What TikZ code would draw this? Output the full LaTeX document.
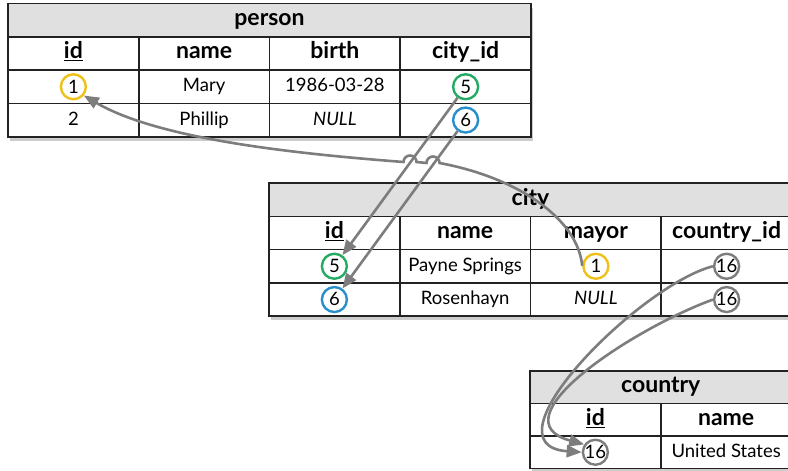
\documentclass[tikz,border=0pt]{standalone}
\usepackage{fontspec}
\setmainfont{Lato}
\usetikzlibrary{arrows.meta,shadows}

\definecolor{tabline}{RGB}{34,34,34}
\definecolor{titlegray}{RGB}{224,224,224}
\definecolor{linkgray}{RGB}{125,125,125}
\definecolor{keyyellow}{RGB}{238,193,24}
\definecolor{keygreen}{RGB}{36,170,98}
\definecolor{keyblue}{RGB}{40,142,204}

\tikzset{
    tabframe/.style={fill=white,anchor=north west,inner sep=0pt,outer sep=0pt,
        drop shadow={opacity=0.4,shadow xshift=1.5pt,shadow yshift=-4pt}},
    tabtitle/.style={draw=tabline,line width=1.6pt,fill=titlegray,anchor=north west,
        inner sep=0pt,outer sep=0pt,minimum height=33.3pt,
        text height=16pt,text depth=5pt,font=\bfseries\fontsize{23}{26}\selectfont},
    headcell/.style={tabtitle,fill=white,minimum width=130.75pt},
    datacell/.style={headcell,text height=14pt,text depth=4pt,
        font=\fontsize{18.5}{21}\selectfont},
    keycirc/.style={circle,line width=2.4pt,minimum size=25pt,inner sep=0pt,anchor=center,
        text height=12.5pt,text depth=0pt,font=\fontsize{18.5}{21}\selectfont},
    link/.style={draw=linkgray,line width=2.6pt,-{Triangle[length=15pt,width=12pt]}}
}

\begin{document}
\begin{tikzpicture}[x=1pt,y=-1pt]
    \useasboundingbox (0,0) rectangle (788,471);
    \clip (0,0) rectangle (788,471);

    % person
    \node[tabframe,minimum width=523pt,minimum height=133.2pt] (person-frame) at (8,3.5) {};
    \node[tabtitle,minimum width=523pt] (person) at (8,3.5) {person};
    \node[headcell] (p-id) at (8,36.8) {\underline{id}};
    \node[headcell] (p-name) at (138.75,36.8) {name};
    \node[headcell] (p-birth) at (269.5,36.8) {birth};
    \node[headcell] (p-city) at (400.25,36.8) {city\_id};
    \node[datacell] (p1-id) at (8,70.1) {};
    \node[datacell] (p1-name) at (138.75,70.1) {Mary};
    \node[datacell] (p1-birth) at (269.5,70.1) {1986-03-28};
    \node[datacell] (p1-city) at (400.25,70.1) {};
    \node[datacell] (p2-id) at (8,103.4) {2};
    \node[datacell] (p2-name) at (138.75,103.4) {Phillip};
    \node[datacell] (p2-birth) at (269.5,103.4) {\itshape NULL};
    \node[datacell] (p2-city) at (400.25,103.4) {};
    \node[keycirc,draw=keyyellow] (p1-idk) at (p1-id.center) {1};
    \node[keycirc,draw=keygreen] (p1-cityk) at (p1-city.center) {5};
    \node[keycirc,draw=keyblue] (p2-cityk) at (p2-city.center) {6};

    % city
    \node[tabframe,minimum width=523pt,minimum height=133.2pt] (city-frame) at (269,183) {};
    \node[tabtitle,minimum width=523pt] (city) at (269,183) {city};
    \node[headcell] (c-id) at (269,216.3) {\underline{id}};
    \node[headcell] (c-name) at (399.75,216.3) {name};
    \node[headcell] (c-mayor) at (530.5,216.3) {mayor};
    \node[headcell] (c-country) at (661.25,216.3) {country\_id};
    \node[datacell] (c1-id) at (269,249.6) {};
    \node[datacell] (c1-name) at (399.75,249.6) {Payne Springs};
    \node[datacell] (c1-mayor) at (530.5,249.6) {};
    \node[datacell] (c1-country) at (661.25,249.6) {};
    \node[datacell] (c2-id) at (269,282.9) {};
    \node[datacell] (c2-name) at (399.75,282.9) {Rosenhayn};
    \node[datacell] (c2-mayor) at (530.5,282.9) {\itshape NULL};
    \node[datacell] (c2-country) at (661.25,282.9) {};
    \node[keycirc,draw=keygreen] (c1-idk) at (c1-id.center) {5};
    \node[keycirc,draw=keyblue] (c2-idk) at (c2-id.center) {6};
    \node[keycirc,draw=keyyellow] (c1-mayork) at (c1-mayor.center) {1};
    \node[keycirc,draw=linkgray] (c1-countryk) at (c1-country.center) {16};
    \node[keycirc,draw=linkgray] (c2-countryk) at (c2-country.center) {16};

    % country
    \node[tabframe,minimum width=261.5pt,minimum height=97.5pt] (country-frame) at (530,371) {};
    \node[tabtitle,minimum width=261.5pt,minimum height=32.5pt] (country) at (530,371) {country};
    \node[headcell,minimum height=32.5pt] (co-id) at (530,403.5) {\underline{id}};
    \node[headcell,minimum height=32.5pt] (co-name) at (660.75,403.5) {name};
    \node[datacell,minimum height=32.5pt] (co1-id) at (530,436) {};
    \node[datacell,minimum height=32.5pt] (co1-name) at (660.75,436) {United States};
    \node[keycirc,draw=linkgray] (co1-idk) at (co1-id.center) {16};

    % links
    \coordinate (hop1) at (410,162);
    \coordinate (hop2) at (433,163);
    \draw[link] (p1-cityk) -- (c1-idk);
    \draw[link] (p2-cityk) -- (c2-idk);
    \draw[link] (c1-mayork.178) .. controls (578,220) and (520,178) .. ([xshift=6.5pt]hop2)
        arc[start angle=0,end angle=180,radius=6.5pt] -- ([xshift=6.5pt]hop1)
        arc[start angle=0,end angle=180,radius=6.5pt]
        .. controls (300,154) and (160,140) .. (p1-idk.-40);
    \draw[link] (c1-countryk.180) .. controls (640,285) and (480,445) .. (co1-idk.180);
    \draw[link] (c2-countryk.180) .. controls (630,330) and (495,420) .. (co1-idk.145);
\end{tikzpicture}
\end{document}
